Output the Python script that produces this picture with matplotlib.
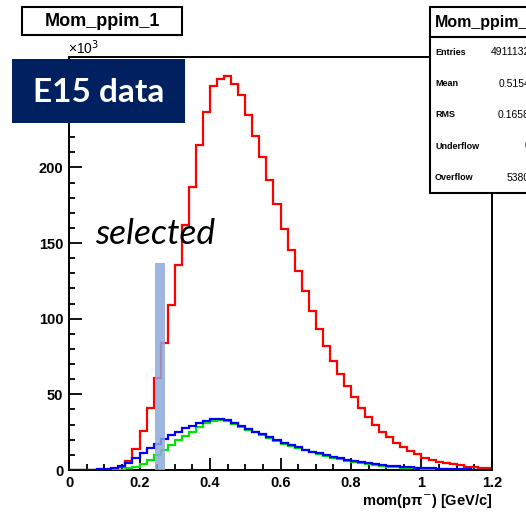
import matplotlib
matplotlib.use("Agg")
from matplotlib import pyplot as plt
from matplotlib.patches import Rectangle
import numpy as np

W, H = 526, 515

# 60 bins of 0.02 GeV/c from 0 to 1.2, counts in units of 10^3
edges = np.linspace(0, 1.2, 61)

red = [0, 0, 0, 0, 0.1, 0.3, 0.8, 2.0, 6.2, 13.7,
       25.8, 41.2, 60.5, 83.7, 109, 135.4, 162, 187, 214.7, 236.7,
       253.6, 258.7, 260.4, 255, 247.7, 234.5, 221, 207, 192, 175.7,
       159.6, 145.3, 131.6, 118.2, 105, 92.9, 82.1, 72, 63.2, 55.7,
       48, 40.7, 34.8, 29.7, 25.3, 21.6, 18, 15, 12.5, 10.4,
       8.1, 6.6, 5.5, 4.4, 3.7, 3.0, 2.3, 1.8, 1.4, 1.1]

blue = [0, 0, 0.1, 0.2, 0.4, 0.8, 1.5, 2.8, 4.8, 7.7,
        11.0, 14.3, 17.4, 20.3, 23.0, 25.3, 27.5, 29.3, 30.9, 32.6,
        33.8, 34.0, 32.8, 31.0, 29.2, 27.2, 25.4, 23.5, 21.6, 19.8,
        18.0, 16.5, 15.0, 13.5, 12.2, 11.0, 9.8, 8.7, 7.7, 6.8,
        5.9, 5.1, 4.4, 3.8, 3.3, 2.8, 2.4, 2.0, 1.7, 1.4,
        1.2, 1.0, 0.8, 0.7, 0.6, 0.5, 0.4, 0.3, 0.3, 0.2]

green = [0, 0, 0, 0, 0, 0, 0.1, 0.3, 1.0, 2.2,
         4.0, 6.6, 9.9, 13.2, 16.5, 19.8, 22.4, 25.3, 28.2, 30.8,
         32.5, 33.2, 32.3, 30.5, 28.6, 26.7, 24.8, 22.9, 21.0, 19.2,
         17.4, 15.8, 14.3, 12.9, 11.6, 10.4, 9.2, 8.1, 7.1, 6.2,
         5.3, 4.5, 3.8, 3.2, 2.7, 2.2, 1.8, 1.5, 1.2, 1.0,
         0.8, 0.6, 0.5, 0.4, 0.3, 0.2, 0.2, 0.1, 0.1, 0.1]

x_ticks = [0, 0.2, 0.4, 0.6, 0.8, 1.0, 1.2]
x_ticklabels = ["0", "0.2", "0.4", "0.6", "0.8", "1", "1.2"]
y_ticks = [0, 50, 100, 150, 200, 250]
y_ticklabels = ["0", "50", "100", "150", "200", ""]  # 250 sits under the E15 box

sel_lo, sel_hi, sel_top = 0.245, 0.273, 137

stat_names = ["Entries", "Mean", "RMS", "Underflow", "Overflow"]
stat_values = ["4911132", "0.5154", "0.1658", "0", "5380"]

root_font = ["Liberation Sans", "DejaVu Sans"]
plt.rcParams["font.family"] = root_font


def fx(px):
    return px / W


def fy(py):
    return 1 - py / H


fig = plt.figure(figsize=(W / 100, H / 100), dpi=100)
ax = fig.add_axes([fx(69), fy(470), fx(492) - fx(69), fy(57) - fy(470)])

ax.stairs(red, edges, color="#ff0000", linewidth=1.6, zorder=2)
ax.stairs(green, edges, color="#00e600", linewidth=1.6, zorder=3)
ax.stairs(blue, edges, color="#0000ff", linewidth=1.6, zorder=4)
ax.add_patch(Rectangle((sel_lo, 0), sel_hi - sel_lo, sel_top,
                       facecolor="#8eaadb", alpha=0.85, edgecolor="none", zorder=5))

ax.set_xlim(0, 1.2)
ax.set_ylim(0, 273)
ax.set_xticks(x_ticks)
ax.set_xticklabels(x_ticklabels, fontsize=10.5, fontweight="bold")
ax.set_yticks(y_ticks)
ax.set_yticklabels(y_ticklabels, fontsize=10.5, fontweight="bold")
ax.set_xticks(np.arange(0, 1.2001, 0.05), minor=True)
ax.set_yticks(np.arange(0, 271, 10), minor=True)
ax.tick_params(which="major", direction="in", length=9, width=1.3, pad=4)
ax.tick_params(which="minor", direction="in", length=4.5, width=1.3)
for s in ax.spines.values():
    s.set_linewidth(1.4)

fig.text(fx(492), fy(501), r"mom(pπ$^{-}$) [GeV/c]", ha="right", va="center",
         fontsize=10.5, fontweight="bold")
fig.text(fx(68), fy(48), "×10$^{3}$", ha="left", va="center", fontsize=10)

# title box
fig.patches.append(Rectangle((fx(22), fy(35)), fx(182) - fx(22), fy(7) - fy(35),
                             transform=fig.transFigure, facecolor="white",
                             edgecolor="black", linewidth=1.5, zorder=6))
fig.text(fx(102), fy(21), "Mom_ppim_1", ha="center", va="center",
         fontsize=13, fontweight="bold", zorder=7)

# stats box
fig.patches.append(Rectangle((fx(430), fy(193)), fx(540) - fx(430), fy(7) - fy(193),
                             transform=fig.transFigure, facecolor="white",
                             edgecolor="black", linewidth=1.5, zorder=6))
fig.lines.append(plt.Line2D([fx(430), fx(540)], [fy(36.7), fy(36.7)],
                            transform=fig.transFigure, color="black", linewidth=1.5, zorder=7))
fig.text(fx(435), fy(22), "Mom_ppim_1", ha="left", va="center",
         fontsize=11.5, fontweight="bold", zorder=7)
for i, (name, val) in enumerate(zip(stat_names, stat_values)):
    yy = 52.3 + i * 31.3
    fig.text(fx(435), fy(yy), name, ha="left", va="center",
             fontsize=6.5, fontweight="bold", zorder=7)
    fig.text(fx(530), fy(yy), val, ha="right", va="center",
             fontsize=7.5, zorder=7)

# annotations
fig.patches.append(Rectangle((fx(12), fy(123)), fx(185) - fx(12), fy(59) - fy(123),
                             transform=fig.transFigure, facecolor="#002060",
                             edgecolor="none", zorder=8))
fig.text(fx(98.5), fy(92), "E15 data", ha="center", va="center", color="white",
         fontsize=24, fontweight="bold", family=["Lato", "DejaVu Sans"], zorder=9)
fig.text(fx(95), fy(234), "selected", ha="left", va="center", color="black",
         fontsize=25.5, style="italic", family=["Lato", "DejaVu Sans"], zorder=9)

fig.savefig("out.png", dpi=100)
